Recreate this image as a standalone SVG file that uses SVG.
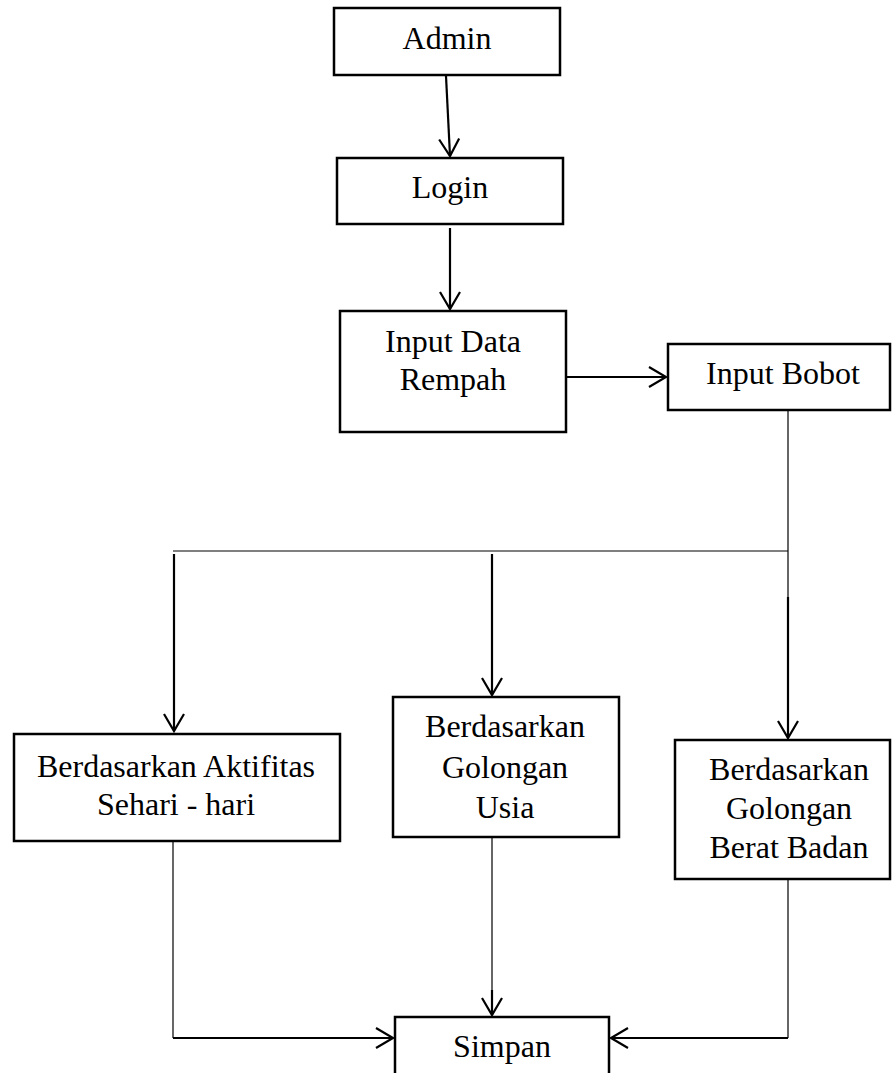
<svg xmlns="http://www.w3.org/2000/svg" width="892" height="1073" viewBox="0 0 892 1073">
  <defs>
    <marker id="open" markerUnits="userSpaceOnUse" markerWidth="24" markerHeight="24" viewBox="-20 -12 24 24" refX="0" refY="0" orient="auto">
      <path d="M-17,-10 L0,0 L-17,10" fill="none" stroke="#000" stroke-width="2.2"/>
    </marker>
  </defs>
  <style>
    .box { fill: #fff; stroke: #000; stroke-width: 2.5; }
    .lbl { font-family: "Liberation Serif", "Times New Roman", serif; font-size: 32px; fill: #000; text-anchor: middle; }
    .arrow { fill: none; stroke: #000; stroke-width: 2.2; marker-end: url(#open); }
    .thin { fill: none; stroke: #000; stroke-width: 1.2; }
  </style>
  <rect width="892" height="1073" fill="#fff"/>

  <g id="connectors">
    <path class="arrow" d="M446,76 L450,156"/>
    <path class="arrow" d="M450,228 L450,309"/>
    <path class="arrow" d="M567,377 L666,377"/>
    <!-- split from Input Bobot -->
    <path class="thin" d="M788,410 L788,597"/>
    <path class="thin" d="M173,551 L788,551"/>
    <path class="arrow" d="M174,554 L174,731"/>
    <path class="arrow" d="M492,554 L492,695"/>
    <path class="arrow" d="M788,597 L788,738"/>
    <!-- into Simpan -->
    <path class="thin" d="M173,841 L173,1038"/>
    <path class="arrow" d="M173,1038 L393,1038"/>
    <path class="thin" d="M492,837 L492,1015"/>
    <path class="arrow" d="M492,990 L492,1015"/>
    <path class="thin" d="M788,879 L788,1038"/>
    <path class="arrow" d="M788,1038 L611,1038"/>
  </g>

  <g id="admin">
    <rect class="box" x="334" y="8" width="226" height="67"/>
    <text class="lbl" x="447" y="49">Admin</text>
  </g>
  <g id="login">
    <rect class="box" x="337" y="158" width="226" height="66"/>
    <text class="lbl" x="450" y="198">Login</text>
  </g>
  <g id="input-data-rempah">
    <rect class="box" x="340" y="311" width="226" height="121"/>
    <text class="lbl" x="453" y="352">Input Data</text>
    <text class="lbl" x="453" y="390">Rempah</text>
  </g>
  <g id="input-bobot">
    <rect class="box" x="668" y="344" width="222" height="66"/>
    <text class="lbl" x="783" y="384">Input Bobot</text>
  </g>
  <g id="aktifitas">
    <rect class="box" x="14" y="734" width="326" height="107"/>
    <text class="lbl" x="176" y="777">Berdasarkan Aktifitas</text>
    <text class="lbl" x="176" y="815">Sehari - hari</text>
  </g>
  <g id="usia">
    <rect class="box" x="393" y="697" width="226" height="140"/>
    <text class="lbl" x="505" y="737">Berdasarkan</text>
    <text class="lbl" x="505" y="778">Golongan</text>
    <text class="lbl" x="505" y="818">Usia</text>
  </g>
  <g id="berat-badan">
    <rect class="box" x="675" y="740" width="215" height="139"/>
    <text class="lbl" x="789" y="780">Berdasarkan</text>
    <text class="lbl" x="789" y="819">Golongan</text>
    <text class="lbl" x="789" y="858">Berat Badan</text>
  </g>
  <g id="simpan">
    <rect class="box" x="395" y="1017" width="214" height="70"/>
    <text class="lbl" x="502" y="1057">Simpan</text>
  </g>
</svg>
